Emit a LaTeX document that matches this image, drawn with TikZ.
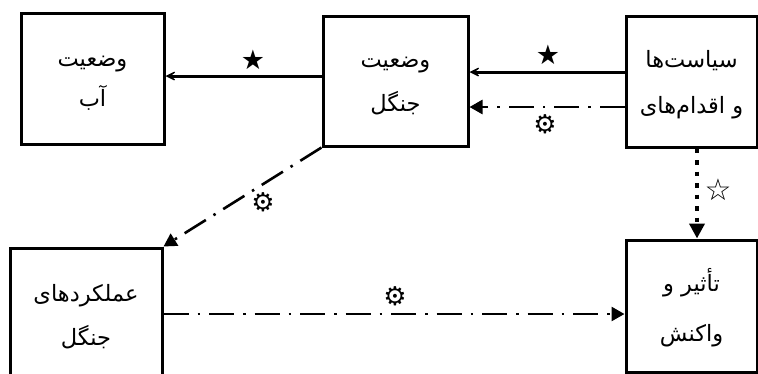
\documentclass[tikz,border=0pt]{standalone}
\usepackage{fontspec}
\TeXXeTstate=1
\newfontfamily\arabicfont[Script=Arabic]{DejaVu Sans}
\newfontfamily\symfont{DejaVu Sans}
\usetikzlibrary{arrows.meta,calc}
\newcommand\rtlline[1]{\strut\beginR #1\endR}
\begin{document}
\begin{tikzpicture}[x=1pt,y=-1pt,
  box/.style={draw,line width=3pt,inner sep=0pt,align=center,
    font=\arabicfont\fontsize{22.5}{44}\selectfont},
  solidarr/.style={line width=3pt,-{Stealth[length=15pt,width=15pt,inset=10pt]}},
  dasharr/.style={line width=2.6pt,dash pattern=on 25pt off 9pt on 2.5pt off 9pt,
    -{Triangle[length=13pt,width=14pt]}},
  dotarr/.style={line width=4.5pt,dash pattern=on 4.5pt off 7pt,
    -{Triangle[length=15pt,width=15pt]}},
  blackstar/.style={font=\symfont\fontsize{27}{30}\selectfont,inner sep=0pt},
  whitestar/.style={font=\symfont\bfseries\fontsize{30}{32}\selectfont,inner sep=0pt},
  sunlabel/.style={font=\symfont\fontsize{26}{28}\selectfont,inner sep=0pt}]
\useasboundingbox (0,0) rectangle (758,373);

\node[box,minimum width=143pt,minimum height=131pt,
  font=\arabicfont\fontsize{22.5}{40}\selectfont] (wat) at (92.5,78.5)
  {\rtlline{وضعیت}\\\rtlline{آب}};
\node[box,minimum width=145pt,minimum height=130pt] (forest) at (395.5,81)
  {\rtlline{وضعیت}\\\rtlline{جنگل}};
\node[box,minimum width=131pt,minimum height=131pt,
  font=\arabicfont\fontsize{22.5}{46}\selectfont] (pol) at (691.5,81.5)
  {\rtlline{سیاست‌ها}\\\rtlline{و اقدام‌های}};
\node[box,minimum width=152pt,minimum height=134pt] (perf) at (86,315)
  {\rtlline{عملکردهای}\\\rtlline{جنگل}};
\node[box,minimum width=131pt,minimum height=132pt,
  font=\arabicfont\fontsize{22.5}{50}\selectfont] (imp) at (691.5,306)
  {\rtlline{تأثیر و}\\\rtlline{واکنش}};

\draw[solidarr] ([yshift=9.5pt]pol.west) -- ([yshift=9.5pt]pol.west -| forest.east);
\draw[solidarr] ([yshift=5pt]forest.west) -- ([yshift=5pt]forest.west -| wat.east);
\draw[dasharr] ([yshift=-25.5pt]pol.west) -- ([yshift=-25.5pt]pol.west -| forest.east);
\draw[dasharr] (forest.south west) -- (perf.north east);
\draw[dasharr] ([yshift=1pt]perf.east) -- ([yshift=1pt]perf.east -| imp.west);
\draw[dotarr] ([xshift=5.5pt]pol.south) -- ([xshift=5.5pt]pol.south |- imp.north);

\node[blackstar] (s1) at (548,55) {★};
\node[blackstar] (s2) at (253,60) {★};
\node[sunlabel] (u1) at (545,124) {⚙};
\node[sunlabel] (u2) at (263,202) {⚙};
\node[sunlabel] (u3) at (395,296) {⚙};
\node[whitestar] (w1) at (718,190) {☆};
\end{tikzpicture}
\end{document}
